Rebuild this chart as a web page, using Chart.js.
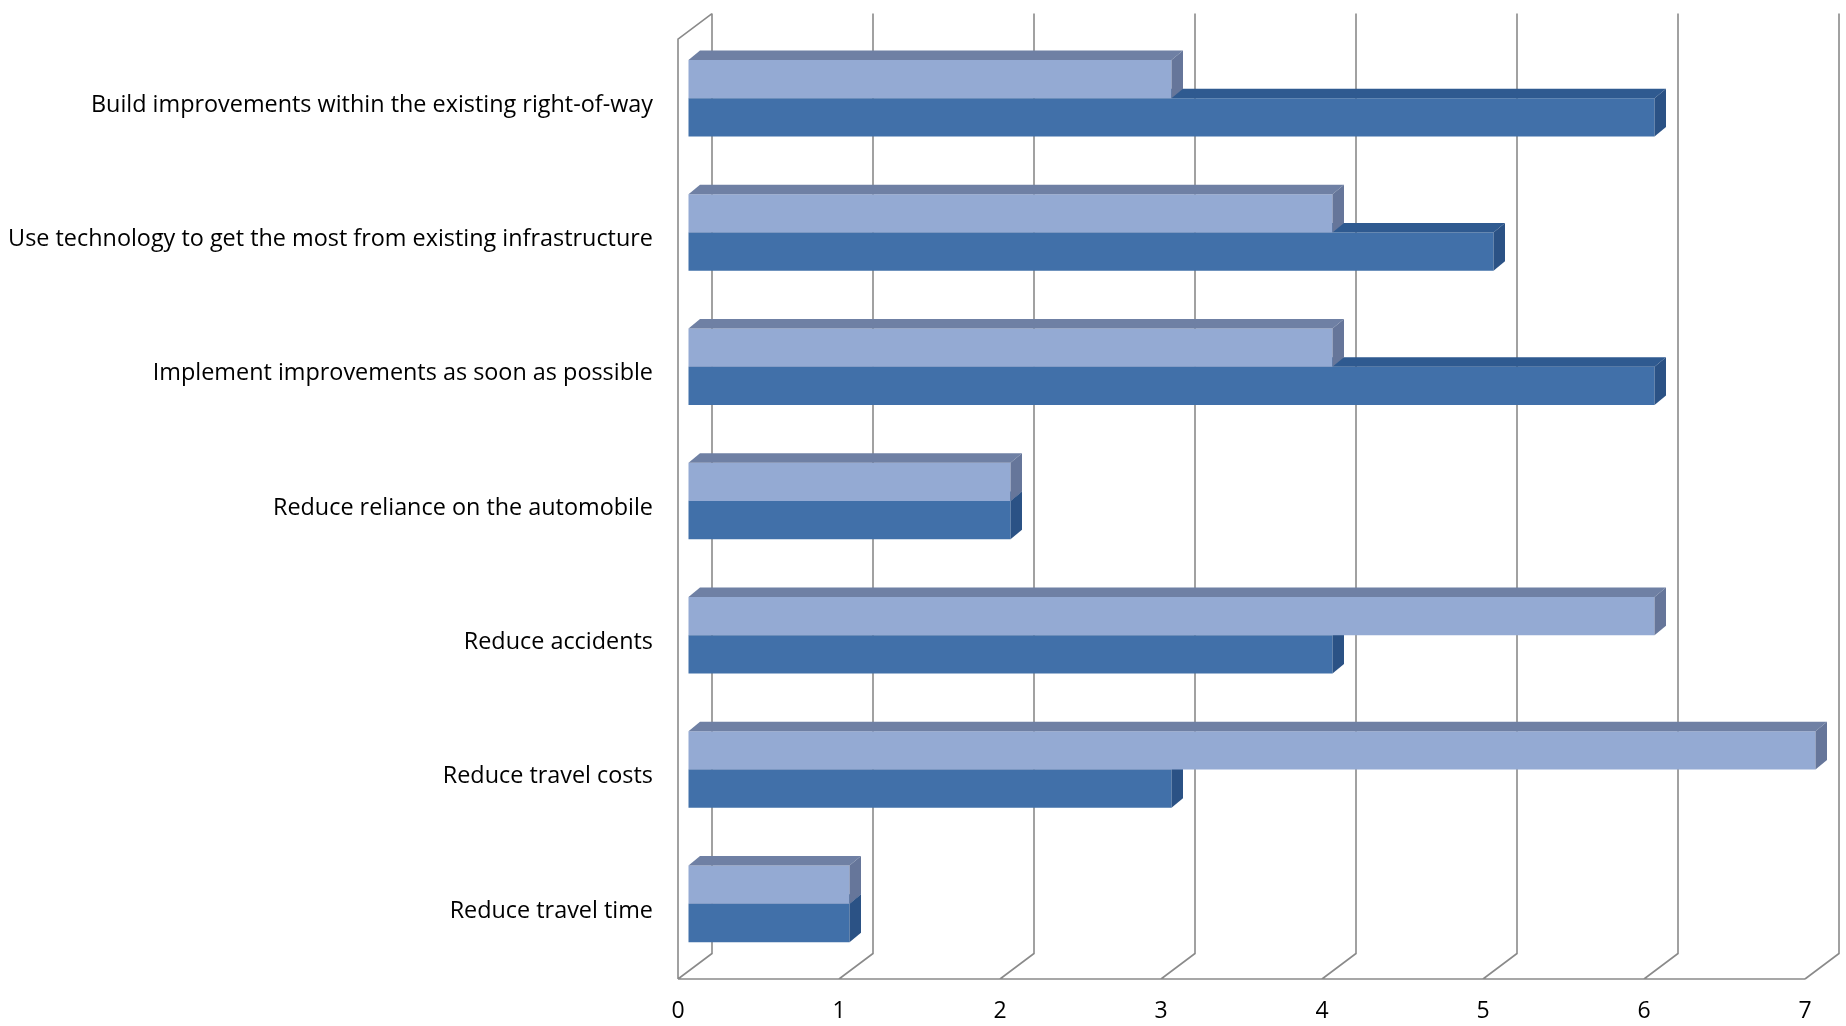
<!DOCTYPE html>
<html><head><meta charset="utf-8">
<script src="https://cdn.jsdelivr.net/npm/chart.js@4.4.1/dist/chart.umd.min.js"></script>
<style>html,body{margin:0;padding:0;background:#fff;overflow:hidden}#wrap{width:1846px;height:1026px}</style>
</head><body><div id="wrap"><canvas id="c" width="1846" height="1026"></canvas></div>
<script>
const categories = [
  "Build improvements within the existing right-of-way",
  "Use technology to get the most from existing infrastructure",
  "Implement improvements as soon as possible",
  "Reduce reliance on the automobile",
  "Reduce accidents",
  "Reduce travel costs",
  "Reduce travel time"
];
const seriesLight = [3, 4, 4, 2, 6, 7, 1];
const seriesDark = [6, 5, 6, 2, 4, 3, 1];
const xTickValues = [0, 1, 2, 3, 4, 5, 6, 7];

const FONT = "'Open Sans', 'Noto Sans', sans-serif";
const wallDepth = {dx: 34, dy: -25.5};
const barShift = {dx: 10.5, dy: -8};
const barDepth = {dx: 11.5, dy: -9.5};
const faceColors = [
  {front: '#94AAD3', top: '#6F80A4', side: '#66769A'},
  {front: '#4170A9', top: '#2F5A90', side: '#2B5285'}
];

const threeD = {
  id: 'threeD',
  beforeDatasetsDraw(chart) {
    const {ctx, chartArea: a, scales: {x}} = chart;
    ctx.save();
    ctx.strokeStyle = '#8a8a8a';
    ctx.lineWidth = 1.6;
    ctx.beginPath();
    ctx.moveTo(a.left, a.bottom);
    ctx.lineTo(a.left, a.top);
    ctx.lineTo(a.left + wallDepth.dx, a.top + wallDepth.dy);
    ctx.moveTo(a.left, a.bottom);
    ctx.lineTo(a.right, a.bottom);
    xTickValues.forEach(v => {
      const px = x.getPixelForValue(v);
      ctx.moveTo(px, a.bottom);
      ctx.lineTo(px + wallDepth.dx, a.bottom + wallDepth.dy);
      ctx.lineTo(px + wallDepth.dx, a.top + wallDepth.dy);
    });
    ctx.stroke();
    ctx.restore();
    ctx.save();
    ctx.translate(barShift.dx, barShift.dy);
  },
  afterDatasetDraw(chart, args) {
    const ctx = chart.ctx;
    const col = faceColors[args.index];
    args.meta.data.forEach(el => {
      const p = el.getProps(['x', 'y', 'base', 'height'], true);
      const top = p.y - p.height / 2, bot = p.y + p.height / 2;
      const {dx, dy} = barDepth;
      ctx.fillStyle = col.top;
      ctx.beginPath();
      ctx.moveTo(p.base, top);
      ctx.lineTo(p.base + dx, top + dy);
      ctx.lineTo(p.x + dx, top + dy);
      ctx.lineTo(p.x, top);
      ctx.closePath();
      ctx.fill();
      ctx.fillStyle = col.side;
      ctx.beginPath();
      ctx.moveTo(p.x, top);
      ctx.lineTo(p.x + dx, top + dy);
      ctx.lineTo(p.x + dx, bot + dy);
      ctx.lineTo(p.x, bot);
      ctx.closePath();
      ctx.fill();
    });
  },
  afterDatasetsDraw(chart) {
    chart.ctx.restore();
  }
};

new Chart(document.getElementById('c'), {
  type: 'bar',
  data: {
    labels: categories,
    datasets: [
      {label: 'Series 2', data: seriesLight, backgroundColor: faceColors[0].front, borderWidth: 0,
       categoryPercentage: 0.57, barPercentage: 1, clip: false},
      {label: 'Series 1', data: seriesDark, backgroundColor: faceColors[1].front, borderWidth: 0,
       categoryPercentage: 0.57, barPercentage: 1, clip: false}
    ]
  },
  options: {
    indexAxis: 'y',
    responsive: false,
    devicePixelRatio: 1,
    animation: false,
    layout: {padding: {top: 32, right: 41, left: 0, bottom: 0}},
    plugins: {legend: {display: false}, tooltip: {enabled: false}},
    scales: {
      x: {
        type: 'linear', min: 0, max: 7,
        ticks: {stepSize: 1, color: '#000', font: {family: FONT, size: 23}, padding: 19},
        grid: {display: false, drawTicks: false},
        border: {display: false},
        afterFit: s => { s.height = 47; }
      },
      y: {
        ticks: {color: '#000', font: {family: FONT, size: 23.4}, padding: 25, labelOffset: -1},
        grid: {display: false, drawTicks: false},
        border: {display: false},
        afterFit: s => { s.width = 678; }
      }
    }
  },
  plugins: [threeD]
});
</script>
</body></html>
